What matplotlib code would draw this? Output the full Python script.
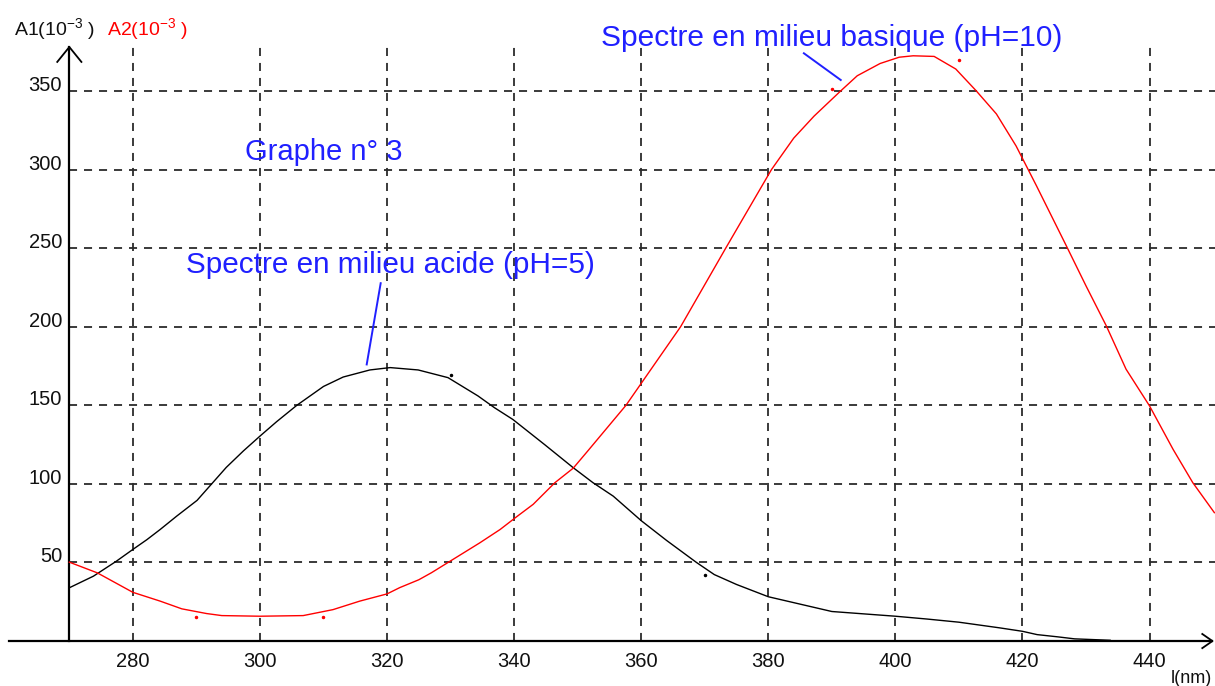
import matplotlib
matplotlib.use("Agg")
import matplotlib.pyplot as plt

plt.rcParams['font.family'] = ['Liberation Sans', 'DejaVu Sans']
plt.rcParams['mathtext.fontset'] = 'custom'
plt.rcParams['mathtext.rm'] = 'Liberation Sans'
plt.rcParams['mathtext.it'] = 'Liberation Sans:italic'
plt.rcParams['lines.scale_dashes'] = False

# ---- data ----
wl_black = [270, 273.8, 277.4, 280, 282.2, 284.3, 286.9, 290.1, 292.4, 294.7,
            297.4, 300, 302.6, 305.8, 310, 313.1, 317.3, 320.5, 324.9, 329.6,
            334.3, 336.9, 339.8, 344.8, 349.3, 352.4, 355.6, 360, 364, 368.7,
            371.5, 375, 380, 385, 390, 395, 400, 405, 410, 416.4, 420, 422.3,
            425.5, 428.2, 433.8]
a1 = [33.9, 41.3, 50.8, 58.3, 64.5, 71, 79.5, 89.5, 100, 110.5,
      121, 130.4, 139.5, 150, 162, 168, 172.5, 174, 172.5, 167.6,
      156, 148.5, 141, 125, 110.3, 100.8, 92.2, 76.6, 64, 50,
      42.3, 36, 28.2, 23.5, 18.8, 17.3, 15.8, 14, 12, 8.4, 6.2, 4.1,
      2.7, 1.4, 0.5]

wl_red = [270, 274.4, 280, 284.3, 287.7, 291.6, 294, 300, 306.8, 309.4,
          311.5, 315.7, 320, 322, 325, 327, 329.6, 332, 334.6, 337.8,
          340.2, 343, 346.4, 349.3, 351.6, 357.6, 366.2, 373.3, 380.5, 384,
          387.2, 391.3, 394, 397.6, 400.6, 402.8, 406.1, 409.5, 412.7, 415.9,
          419, 422.2, 426.9, 430, 433.2, 436.3, 440, 443.7, 446.8, 450.2]
a2 = [50.2, 43.4, 31, 25.4, 20.5, 17.5, 16.2, 15.8, 16.2, 18.3,
      20, 25.4, 30, 34, 39, 43.5, 50, 56, 62.5, 71,
      78.5, 87, 100.7, 110, 121, 150, 200, 250, 300, 320,
      334, 349.7, 359.7, 367.5, 371.5, 372.4, 372, 364, 350.2, 335.4,
      315, 289.7, 251.5, 226, 200.5, 173, 149.6, 122, 100.8, 81.7]

pts_black_x = [330, 370]
pts_black_y = [169, 42]
pts_red_x = [290, 310, 390, 410]
pts_red_y = [15, 15, 351, 370]

xticks = [280, 300, 320, 340, 360, 380, 400, 420, 440]
yticks = [50, 100, 150, 200, 250, 300, 350]

# ---- figure ----
fig = plt.figure(figsize=(12.15, 6.86), dpi=100)
ax = fig.add_axes([0, 0, 1, 1])
ax.set_xlim(259.09, 450.3)
ax.set_ylim(-28.6, 407.9)
ax.axis('off')

grid_kw = dict(color='#2b2b2b', lw=1.3, dashes=(5.8, 5.0), zorder=1)
for x in xticks:
    ax.plot([x, x], [0, 381.5], **grid_kw)
for y in yticks:
    ax.plot([270, 450.3], [y, y], **grid_kw)

# axes with arrows
ax.plot([260.5, 449.9], [0, 0], color='black', lw=1.6, zorder=3)
ax.plot([270, 270], [0, 378], color='black', lw=1.6, zorder=3)
ax.plot([268.1, 270, 271.9], [368.5, 378, 368.5], color='black', lw=1.3, zorder=3)
ax.plot([448.3, 449.9, 448.3], [4.5, 0, -4.5], color='black', lw=1.3, zorder=3)

# curves
ax.plot(wl_black, a1, color='black', lw=1.0, zorder=4)
ax.plot(wl_red, a2, color='#ff0000', lw=1.0, zorder=4)
ax.plot(pts_black_x, pts_black_y, 'o', color='black', ms=1.5, zorder=5)
ax.plot(pts_red_x, pts_red_y, 'o', color='#ff0000', ms=1.5, zorder=5)

# tick labels
for y in yticks:
    ax.text(268.85, y, str(y), ha='right', va='baseline', fontsize=14.5, color='#111111')
for x in xticks:
    ax.text(x, -16.2, str(x), ha='center', va='baseline', fontsize=14.5, color='#111111')
ax.text(449.9, -26.4, 'l(nm)', ha='right', va='baseline', fontsize=13, color='#111111')

# axis titles
ax.text(261.3, 385.6, r'A1(10$^{-3}$ )', ha='left', va='baseline', fontsize=14, color='#111111')
ax.text(275.95, 385.6, r'A2(10$^{-3}$ )', ha='left', va='baseline', fontsize=14, color='#ff0000')

# annotations
blue = '#2020ff'
ax.text(297.6, 306.2, 'Graphe n° 3', ha='left', va='baseline', fontsize=21, color=blue)
ax.text(288.35, 234.1, 'Spectre en milieu acide (pH=5)', ha='left', va='baseline', fontsize=21.4, color=blue)
ax.text(353.6, 378.7, 'Spectre en milieu basique (pH=10)', ha='left', va='baseline', fontsize=21.5, color=blue)
ax.plot([319.0, 316.8], [227.7, 176.0], color=blue, lw=1.4, zorder=5)
ax.plot([385.6, 391.4], [374.0, 357.0], color=blue, lw=1.4, zorder=5)

fig.savefig('out.png', dpi=100, facecolor='white')
